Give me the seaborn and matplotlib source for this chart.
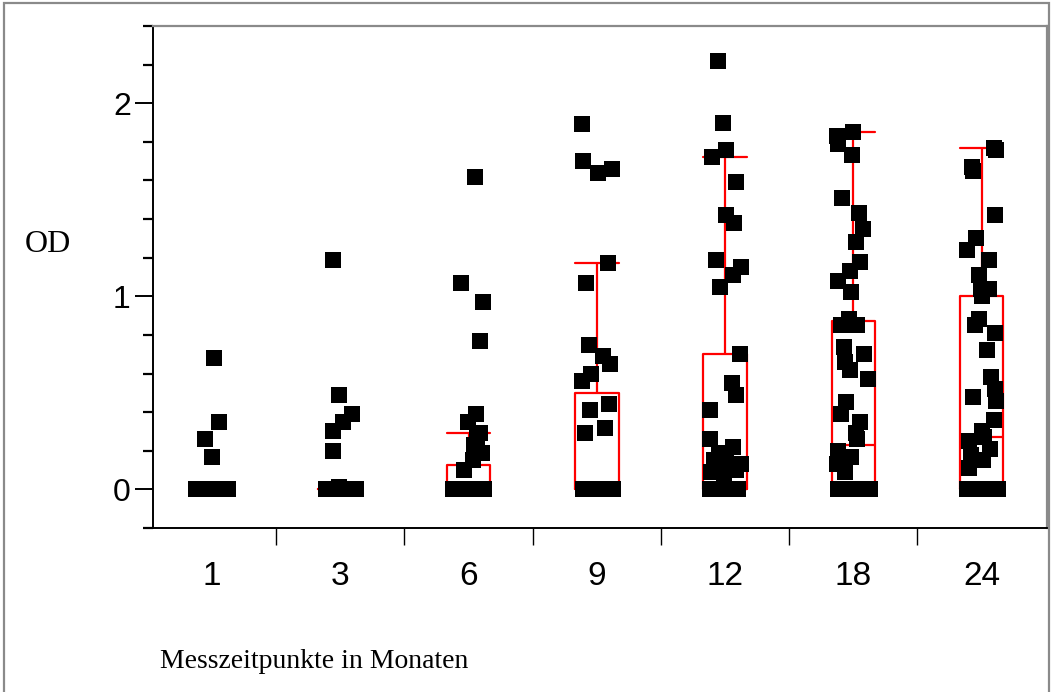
import numpy as np
import pandas as pd
import matplotlib
matplotlib.use("Agg")
import matplotlib.pyplot as plt
from matplotlib.ticker import FixedLocator
import seaborn as sns

# ---- data ----
months = ["1", "3", "6", "9", "12", "18", "24"]
od_m1 = [0.68, 0.35, 0.26, 0.17] + [0.0] * 39
od_m3 = [1.19, 0.49, 0.39, 0.35, 0.30, 0.20, 0.01] + [0.0] * 36
od_m6 = [1.62, 1.07, 0.97, 0.77, 0.39, 0.35, 0.29, 0.27, 0.23, 0.19, 0.15, 0.10] + [0.0] * 31
od_m9 = [1.89, 1.70, 1.66, 1.64, 1.17, 1.07, 0.75, 0.69, 0.65, 0.60, 0.56, 0.44,
         0.41, 0.32, 0.29] + [0.0] * 28
od_m12 = [2.22, 1.90, 1.76, 1.72, 1.59, 1.42, 1.38, 1.19, 1.15, 1.11, 1.05, 0.70,
          0.55, 0.49, 0.41, 0.26, 0.22, 0.19, 0.16, 0.15, 0.13, 0.12, 0.10, 0.09,
          0.07] + [0.0] * 20
od_m18 = [1.85, 1.83, 1.79, 1.73, 1.51, 1.43, 1.35, 1.28, 1.18, 1.13, 1.08, 1.02,
          0.88, 0.85, 0.85, 0.74, 0.70, 0.66, 0.62, 0.57, 0.45, 0.39, 0.35, 0.29,
          0.26, 0.20, 0.17, 0.13, 0.09] + [0.0] * 21
od_m24 = [1.77, 1.76, 1.67, 1.65, 1.42, 1.30, 1.24, 1.19, 1.11, 1.04, 1.04, 1.00,
          0.88, 0.85, 0.81, 0.72, 0.58, 0.52, 0.48, 0.46, 0.36, 0.30, 0.27, 0.25,
          0.21, 0.18, 0.15, 0.11] + [0.0] * 17
series = [od_m1, od_m3, od_m6, od_m9, od_m12, od_m18, od_m24]

df = pd.DataFrame({
    "month": np.concatenate([[m] * len(v) for m, v in zip(months, series)]),
    "od": np.concatenate(series),
})

# ---- figure ----
sns.set_style("ticks")
plt.rcParams["font.family"] = ["Liberation Sans", "DejaVu Sans"]
plt.rcParams.update({"text.color": "black", "axes.labelcolor": "black",
                     "xtick.color": "black", "ytick.color": "black"})

fig = plt.figure(figsize=(10.52, 6.92), dpi=100)
ax = fig.add_axes([153 / 1052, 1 - 528 / 692, 894 / 1052, 502 / 692])

sns.boxplot(data=df, x="month", y="od", order=months, width=0.34, whis=1.5,
            showfliers=False, fill=False, color="#ff0000", linewidth=1.6,
            capwidths=0.34, ax=ax, zorder=2)

np.random.seed(3)
sns.stripplot(data=df, x="month", y="od", order=months, color="black",
              marker="s", size=11.5, jitter=0.13, linewidth=0, ax=ax, zorder=3)

ax.set_xlim(-0.46, 6.51)
ax.set_ylim(-0.2, 2.4)

# y ticks
ax.yaxis.set_major_locator(FixedLocator([0, 1, 2]))
ax.yaxis.set_minor_locator(FixedLocator([-0.2, 0.2, 0.4, 0.6, 0.8, 1.2, 1.4, 1.6,
                                         1.8, 2.2, 2.4]))
ax.tick_params(axis="y", which="major", length=13, width=1.4, labelsize=23,
               color="black", labelcolor="black", pad=3)
ax.tick_params(axis="y", which="minor", length=7, width=1.6, color="black")
ax.set_yticklabels(["0", "1", "2"])

# x ticks
ax.xaxis.set_minor_locator(FixedLocator([0.5, 1.5, 2.5, 3.5, 4.5, 5.5]))
ax.tick_params(axis="x", which="major", length=0, labelsize=24, pad=24,
               labelcolor="black")
ax.tick_params(axis="x", which="minor", length=12, width=1.0, color="black")

for side in ["left", "bottom"]:
    ax.spines[side].set_color("black")
    ax.spines[side].set_linewidth(1.4)
for side in ["top", "right"]:
    ax.spines[side].set_color("#8a8a8a")
    ax.spines[side].set_linewidth(1.6)

ax.set_ylabel("OD", rotation=0, family="Liberation Serif", fontsize=23,
              ha="center", va="center", color="black")
ax.yaxis.set_label_coords((48 - 153) / 894, (528 - 245) / 502)
ax.set_xlabel("Messzeitpunkte in Monaten", family="Liberation Serif",
              fontsize=20, ha="left", va="center", color="black")
ax.xaxis.set_label_coords((160 - 153) / 894, (528 - 661) / 502)

# outer frame
fig.add_artist(plt.Rectangle((0.004, -0.02), 0.993, 1.015,
                             transform=fig.transFigure, fill=False,
                             edgecolor="#8a8a8a", linewidth=1.6))

fig.savefig("out.png", dpi=100)
